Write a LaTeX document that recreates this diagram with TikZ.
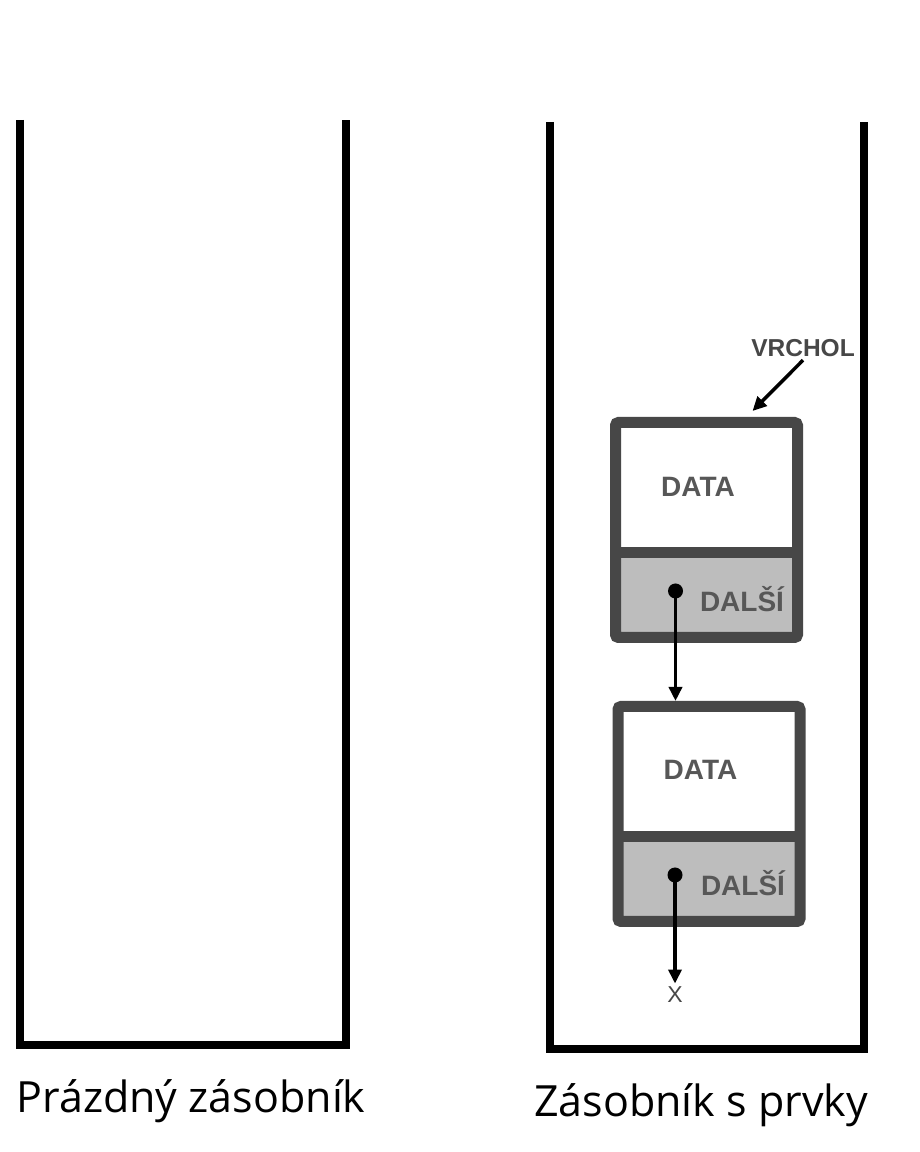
\documentclass[tikz,border=0pt]{standalone}
\usepackage{fontspec}
\setmainfont{Liberation Sans}
\newfontfamily\captionfont{Open Sans}
\usetikzlibrary{arrows.meta,calc,positioning}
\definecolor{FrameGray}{HTML}{474747}
\definecolor{CellGray}{HTML}{BDBDBD}
\definecolor{LabelGray}{HTML}{575757}
\tikzset{
  stackwall/.style={line width=8pt, draw=black, line join=miter},
  itembox/.style={draw=FrameGray, line width=11pt, rounded corners=3pt, minimum width=182pt, minimum height=215pt, inner sep=0pt,
    path picture={
      \fill[CellGray] (path picture bounding box.south west) rectangle ([yshift=84.5pt]path picture bounding box.south east);
      \draw[FrameGray, line width=11pt] ([yshift=84.5pt]path picture bounding box.south west) -- ([yshift=84.5pt]path picture bounding box.south east);
    }},
  celltext/.style={font=\bfseries\fontsize{28}{28}\selectfont, text=LabelGray},
  toptext/.style={font=\bfseries\fontsize{24.5}{24.5}\selectfont, text=FrameGray},
  niltext/.style={font=\fontsize{23}{23}\selectfont, text=FrameGray},
  captiontext/.style={font=\captionfont\fontsize{43}{43}\selectfont, anchor=base},
  itemdot/.style={circle, fill=black, minimum size=15pt, inner sep=0pt},
  ptrarrow/.style={-{Triangle[length=14pt,width=13pt]}, line width=3.5pt, draw=black}
}

\begin{document}
\begin{tikzpicture}[x=1pt, y=1pt]
  \fill[white] (0,0) rectangle (920,1152);
  \useasboundingbox (0,0) rectangle (920,1152);
  % empty stack
  \draw[stackwall] (20,1032) |- (346,107) -- (346,1032);
  \node[captiontext] (capempty) at (191,39) {Prázdný zásobník};
  % stack with items
  \draw[stackwall] (550,1030) |- (864,103) -- (864,1030);
  \node[captiontext] (capfull) at (701,35) {Zásobník s prvky};
  \node[itembox] (item1) at (706.5,622) {};
  \node[itembox, below=58pt of item1, xshift=2.5pt] (item2) {};
  \node[celltext] (data1) at ($(item1)+(-8.5,43)$) {DATA};
  \node[celltext] (next1) at ($(item1)+(35.5,-69.5)$) {DALŠÍ};
  \node[itemdot] (dot1) at ($(item1)+(-31,-61)$) {};
  \node[celltext] (data2) at ($(item2)+(-8.5,44)$) {DATA};
  \node[celltext] (next2) at ($(item2)+(34,-69)$) {DALŠÍ};
  \node[itemdot] (dot2) at ($(item2)+(-34,-61)$) {};
  \node[toptext] (top) at (803,804) {VRCHOL};
  \node[niltext] (nil) at (675,157) {X};
  \draw[ptrarrow] (top.south) -- ([xshift=46pt,yshift=6pt]item1.north);
  \draw[ptrarrow] (dot1.center) -- (dot1 |- item2.north);
  \draw[ptrarrow] (dot2.center) -- (nil.north);
\end{tikzpicture}
\end{document}
